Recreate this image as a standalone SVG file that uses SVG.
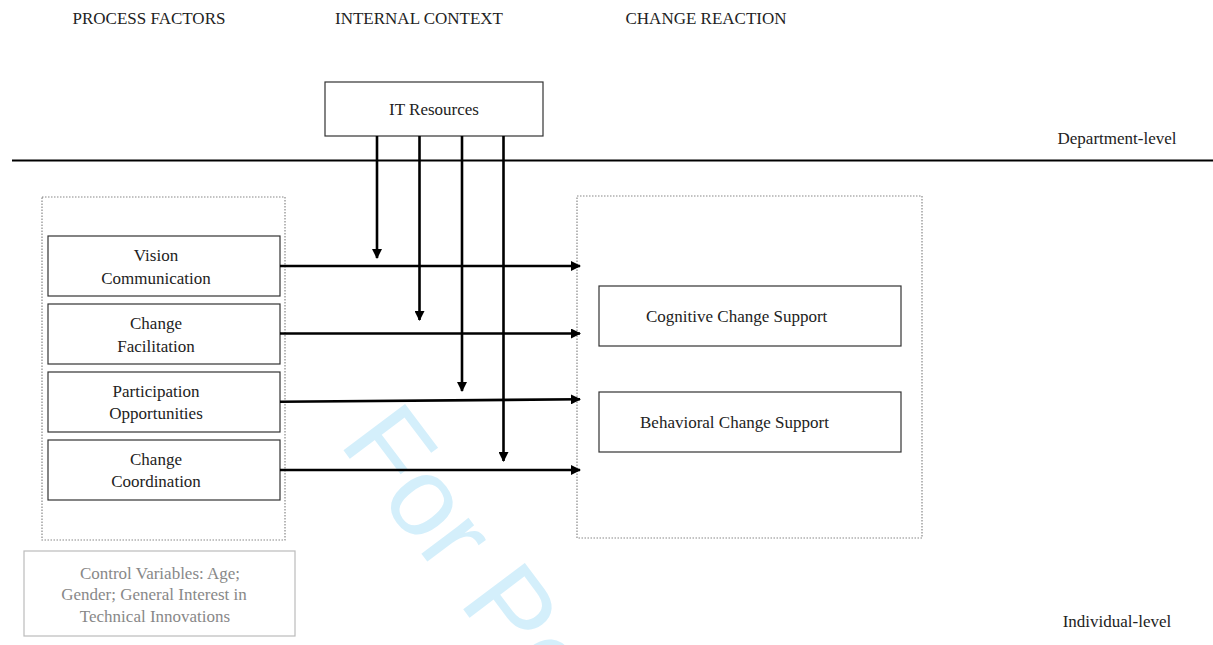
<svg xmlns="http://www.w3.org/2000/svg" width="1213" height="645" viewBox="0 0 1213 645">
<defs>
<marker id="ah" markerWidth="10" markerHeight="10" refX="9" refY="5" orient="auto" markerUnits="userSpaceOnUse">
<path d="M0,0 L10,5 L0,10 Z" fill="#000"/>
</marker>
</defs>
<style>
text{font-family:"Liberation Serif","Times New Roman",serif;font-size:17px;fill:#222;}
.c{text-anchor:middle;}
.box{fill:#fff;stroke:#333;stroke-width:1.2;}
.dot{fill:none;stroke:#888;stroke-width:1.2;stroke-dasharray:1.5 1.5;}
.conn{fill:none;stroke:#000;stroke-width:2.6;marker-end:url(#ah);}
.wm{font-family:"Liberation Sans",Arial,sans-serif;font-size:112px;fill:#d4effb;}
.ctl{fill:#fff;stroke:#bbb;stroke-width:1.2;}
.ctlt{fill:#888;}
</style>
<rect width="1213" height="645" fill="#fff"/>
<text class="wm" transform="translate(338,443) rotate(53)">For Pe</text>
<g id="headers">
<text class="c" x="149" y="24">PROCESS FACTORS</text>
<text class="c" x="419" y="24">INTERNAL CONTEXT</text>
<text class="c" x="706" y="24">CHANGE REACTION</text>
<text class="c" x="1117" y="144">Department-level</text>
<text class="c" x="1117" y="627">Individual-level</text>
</g>
<line x1="12" y1="160.5" x2="1213" y2="160.5" stroke="#000" stroke-width="2"/>
<g id="process-factors"><rect class="dot" x="42" y="197" width="243" height="343"/></g>
<g id="change-reaction"><rect class="dot" x="577" y="196" width="345" height="342"/></g>
<g id="it-resources"><rect class="box" x="325" y="82" width="218" height="54"/><text class="c" x="434" y="115">IT Resources</text></g>
<g id="vision"><rect class="box" x="48" y="236" width="232" height="60"/><text class="c" x="156" y="261">Vision</text><text class="c" x="156" y="284">Communication</text></g>
<g id="facilitation"><rect class="box" x="48" y="304" width="232" height="60"/><text class="c" x="156" y="329">Change</text><text class="c" x="156" y="352">Facilitation</text></g>
<g id="participation"><rect class="box" x="48" y="372" width="232" height="60"/><text class="c" x="156" y="397">Participation</text><text class="c" x="156" y="419">Opportunities</text></g>
<g id="coordination"><rect class="box" x="48" y="440" width="232" height="60"/><text class="c" x="156" y="465">Change</text><text class="c" x="156" y="487">Coordination</text></g>
<g id="cognitive"><rect class="box" x="599" y="286" width="302" height="60"/><text x="646" y="322">Cognitive Change Support</text></g>
<g id="behavioral"><rect class="box" x="599" y="392" width="302" height="60"/><text x="640" y="428">Behavioral Change Support</text></g>
<g id="controls"><rect class="ctl" x="24" y="551" width="271" height="85"/><text class="c ctlt" x="160" y="579">Control Variables: Age;</text><text class="c ctlt" x="154" y="600">Gender; General Interest in</text><text class="c ctlt" x="155" y="622">Technical Innovations</text></g>
<g id="connectors">
<line class="conn" x1="377" y1="136" x2="377" y2="258"/>
<line class="conn" x1="419.5" y1="136" x2="419.5" y2="320"/>
<line class="conn" x1="462" y1="136" x2="462" y2="391"/>
<line class="conn" x1="503.5" y1="136" x2="503.5" y2="461"/>
<line class="conn" x1="280" y1="266" x2="580" y2="266"/>
<line class="conn" x1="280" y1="333.5" x2="580" y2="333.5"/>
<line class="conn" x1="280" y1="401.7" x2="580" y2="399.3"/>
<line class="conn" x1="280" y1="470" x2="580" y2="470"/>
</g>
</svg>
